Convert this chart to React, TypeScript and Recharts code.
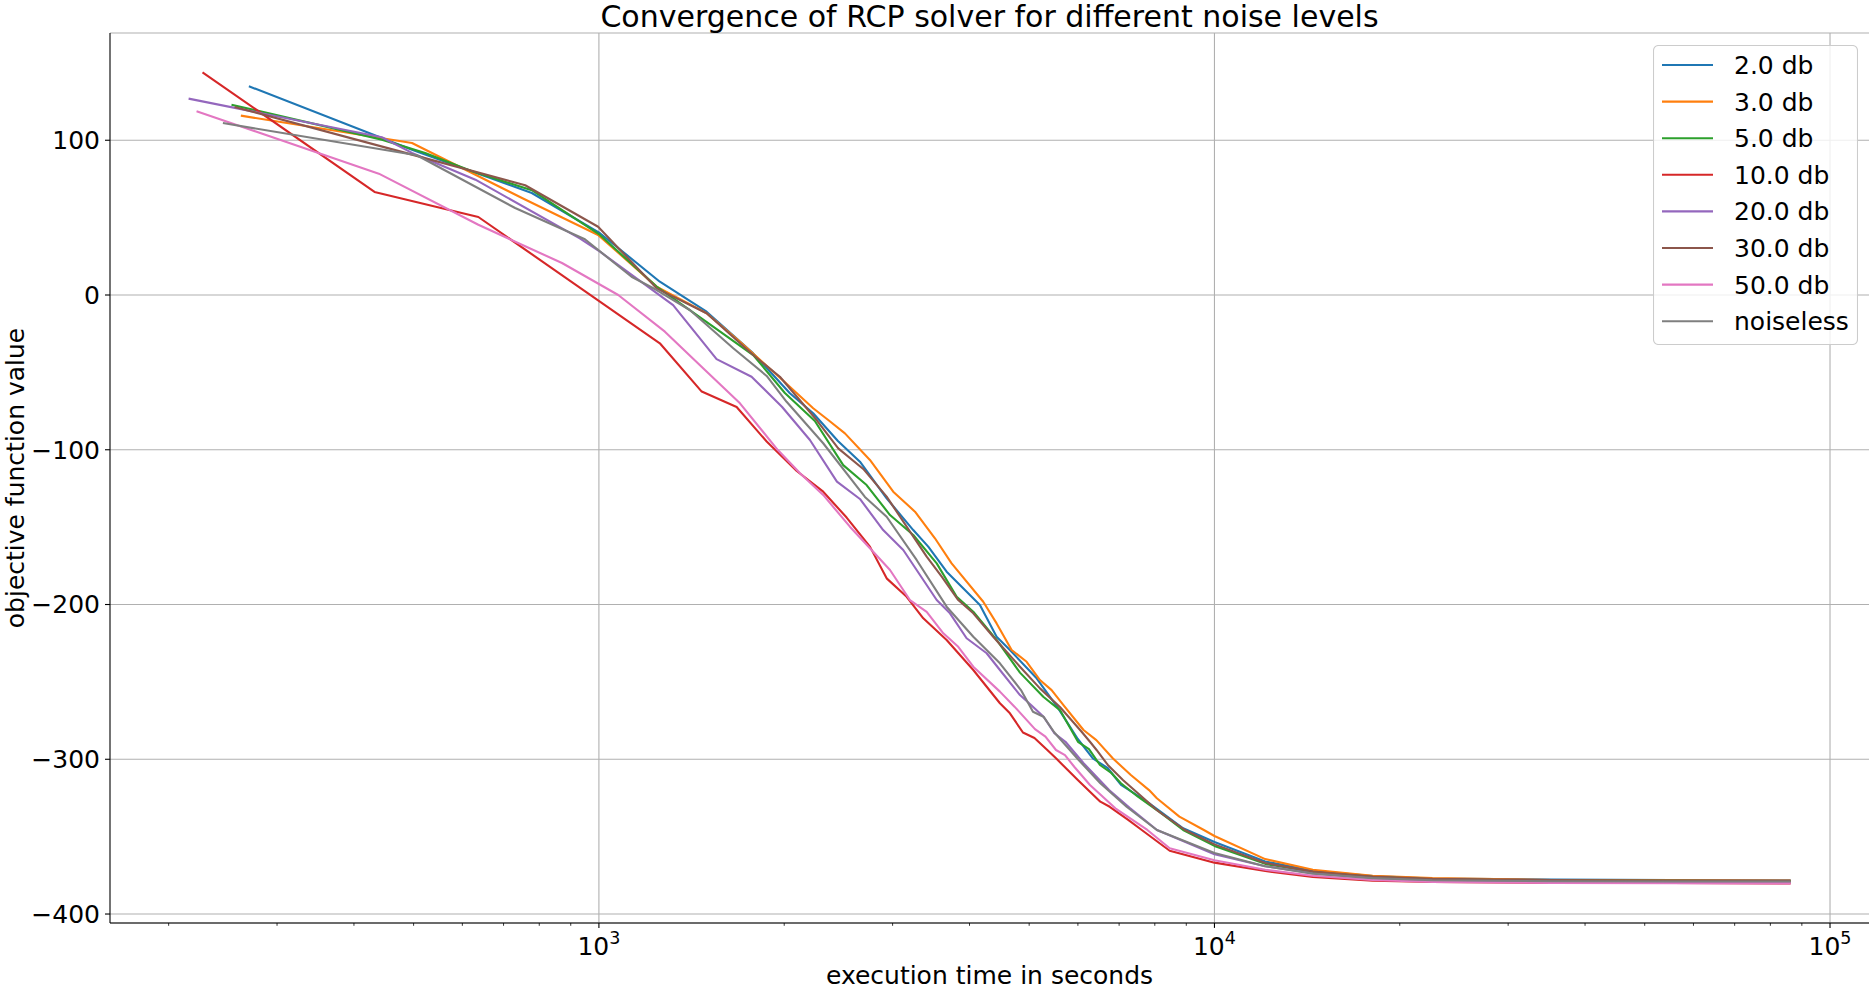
import { LineChart, Line, XAxis, YAxis, CartesianGrid, ReferenceLine, Legend } from 'recharts'

// execution time (s) / objective value per noise level
const T_2DB = [270, 444, 497, 778, 1004, 1256, 1496, 1781, 2043, 2229, 2445, 2655, 2934, 3241, 3428, 3672, 4159, 4427, 4653, 5142, 5575, 5998, 6345, 6711, 7051, 7407, 7836, 8894, 10000, 12090, 14450, 18070, 22590, 35320, 55200, 86300]
const V_2DB = [134.9, 101.5, 93.9, 65.9, 39.9, 8.6, -10.8, -37.7, -63.5, -76.4, -94.3, -107.7, -131.4, -151.9, -162.6, -178.8, -200.3, -220.8, -229.4, -247.7, -267.1, -286.9, -299.4, -305.8, -316.6, -322.0, -328.5, -344.6, -353.5, -366.0, -372.0, -375.5, -377.0, -377.8, -378.0, -378.2]

const T_3DB = [262, 497, 556, 750, 997, 1241, 1496, 1695, 1981, 2229, 2358, 2510, 2756, 3007, 3262, 3515, 3741, 4211, 4427, 4683, 4953, 5206, 5438, 5680, 6127, 6429, 6841, 7314, 7830, 8061, 8770, 9612, 10000, 12090, 14450, 18070, 22590, 35320, 55200, 86300]
const V_3DB = [115.9, 98.2, 88.5, 62.7, 38.8, 5.4, -11.8, -30.2, -54.5, -73.2, -80.8, -89.4, -106.6, -127.1, -140.0, -157.2, -173.4, -198.2, -212.2, -229.4, -237.0, -248.8, -255.3, -264.9, -281.1, -287.6, -299.5, -310.2, -319.9, -325.2, -337.1, -345.7, -349.6, -364.5, -371.4, -375.3, -376.8, -378.0, -378.2, -378.4]

const T_5DB = [253, 444, 522, 622, 778, 1004, 1241, 1533, 1781, 2005, 2243, 2494, 2722, 2971, 3241, 3538, 3813, 4057, 4427, 4831, 5271, 5610, 6002, 6254, 6516, 6789, 7048, 7511, 8061, 8894, 10000, 12090, 14450, 18070, 22590, 35320, 55200, 86300]
const V_5DB = [123.0, 100.4, 91.8, 79.9, 67.7, 38.8, 5.4, -20.5, -38.8, -63.3, -81.4, -109.9, -122.8, -142.2, -155.1, -173.4, -195.0, -204.7, -222.9, -244.0, -259.6, -268.2, -288.7, -293.4, -303.7, -308.6, -315.5, -324.2, -332.8, -345.7, -356.0, -367.6, -373.0, -376.0, -377.6, -378.4, -378.6, -378.8]

const T_10DB = [227, 432, 637, 1256, 1469, 1674, 1873, 2096, 2314, 2526, 2756, 2934, 3162, 3365, 3672, 4057, 4482, 4653, 4885, 5100, 5351, 5528, 5998, 6525, 6759, 7251, 7619, 8458, 10000, 12090, 14450, 18070, 22590, 35320, 55200, 86300]
const V_10DB = [143.9, 66.6, 50.4, -31.2, -62.4, -72.4, -94.7, -113.7, -127.1, -143.8, -162.6, -183.1, -195.0, -208.9, -222.9, -242.3, -263.8, -270.3, -282.7, -286.3, -294.0, -299.4, -313.4, -327.4, -330.7, -339.3, -345.7, -359.1, -366.8, -372.2, -376.1, -378.4, -379.2, -379.9, -380.0, -380.2]

const T_20DB = [215.5, 444, 497, 630, 931, 1004, 1320, 1553, 1770, 1983, 2202, 2436, 2655, 2896, 3122, 3538, 3718, 3957, 4265, 4482, 4831, 5035, 5277, 5495, 5727, 6129, 6742, 7289, 8065, 10000, 12090, 14450, 18070, 22590, 35320, 55200, 86300]
const V_20DB = [126.9, 101.9, 91.8, 74.5, 36.6, 28.0, -6.5, -41.4, -52.8, -72.2, -93.7, -120.6, -131.8, -151.9, -164.8, -197.1, -205.7, -221.8, -231.5, -242.3, -258.5, -264.9, -272.5, -283.2, -288.7, -302.6, -319.9, -331.5, -345.7, -361.4, -369.1, -373.7, -376.8, -378.4, -379.2, -379.4, -379.5]

const T_30DB = [256, 497, 759, 997, 1241, 1496, 1781, 1968, 2258, 2448, 2688, 2934, 3408, 3605, 3835, 4057, 4371, 4831, 5206, 5610, 6084, 6277, 6434, 6711, 7100, 7511, 8061, 8956, 10000, 12090, 14450, 18070, 22590, 35320, 55200, 86300]
const V_30DB = [121.5, 90.7, 70.9, 44.1, 4.3, -11.8, -38.8, -52.8, -80.8, -99.1, -112.4, -130.3, -169.1, -182.0, -197.1, -205.7, -220.8, -240.2, -254.2, -266.2, -282.2, -288.7, -294.0, -303.7, -313.4, -322.0, -332.8, -345.7, -355.0, -367.0, -372.5, -375.8, -377.3, -378.0, -378.3, -378.5]

const T_50DB = [222, 439, 637, 759, 871, 1075, 1280, 1487, 1695, 1953, 2122, 2314, 2557, 2790, 2971, 3201, 3408, 3627, 3835, 4057, 4482, 4733, 5110, 5314, 5528, 5717, 5923, 6277, 6902, 7780, 8458, 10000, 12090, 14450, 18070, 22590, 35320, 55200, 86300]
const V_50DB = [118.7, 78.4, 45.4, 31.5, 20.7, 0.0, -23.7, -48.5, -70.0, -100.2, -115.2, -129.2, -149.7, -165.9, -177.7, -197.1, -204.7, -218.6, -227.3, -240.2, -256.3, -266.0, -280.5, -285.4, -294.0, -297.3, -305.0, -316.6, -331.7, -345.7, -357.5, -365.3, -371.4, -375.3, -378.0, -379.2, -379.9, -380.1, -380.2]

const T_NOISELESS = [245, 506, 731, 949, 1130, 1241, 1405, 1653, 1873, 2018, 2314, 2705, 2934, 3282, 3672, 4057, 4482, 4849, 5072, 5275, 5495, 6002, 6525, 7199, 8061, 10000, 12090, 14450, 18070, 22590, 35320, 55200, 86300]
const V_NOISELESS = [111.1, 90.3, 56.2, 36.0, 11.8, 3.2, -9.7, -34.4, -52.3, -69.0, -95.8, -130.5, -143.3, -171.2, -201.4, -220.8, -238.0, -255.3, -269.3, -272.5, -282.7, -300.0, -315.5, -330.7, -345.7, -360.6, -369.1, -373.9, -376.8, -378.2, -378.8, -379.0, -379.0]

const MAJOR_TICKS = [1000, 10000, 100000]
const X_TICKS = [200, 300, 400, 500, 600, 700, 800, 900, 1000, 2000, 3000, 4000, 5000, 6000, 7000, 8000, 9000, 10000, 20000, 30000, 40000, 50000, 60000, 70000, 80000, 90000, 100000]
const Y_TICKS = [-400, -300, -200, -100, 0, 100]
const X_DOMAIN = [160.6, 115700]
const Y_DOMAIN = [-405.8, 169.3]

const FONT = '"DejaVu Sans", sans-serif'

const SERIES = [
  { name: '2.0 db', color: '#1f77b4', t: T_2DB, v: V_2DB },
  { name: '3.0 db', color: '#ff7f0e', t: T_3DB, v: V_3DB },
  { name: '5.0 db', color: '#2ca02c', t: T_5DB, v: V_5DB },
  { name: '10.0 db', color: '#d62728', t: T_10DB, v: V_10DB },
  { name: '20.0 db', color: '#9467bd', t: T_20DB, v: V_20DB },
  { name: '30.0 db', color: '#8c564b', t: T_30DB, v: V_30DB },
  { name: '50.0 db', color: '#e377c2', t: T_50DB, v: V_50DB },
  { name: 'noiseless', color: '#7f7f7f', t: T_NOISELESS, v: V_NOISELESS },
].map(s => ({ ...s, data: s.t.map((t, i) => ({ t, v: s.v[i] })) }))

const minus = (v: number) => String(v).replace('-', '\u2212')

function XTick(props: any) {
  const { x, y, payload } = props
  const major = MAJOR_TICKS.includes(payload.value)
  return (
    <g>
      <line x1={x} x2={x} y1={y} y2={y + (major ? 4.9 : 2.8)} stroke="#000" strokeWidth={major ? 1.1 : 0.8} />
      {major && (
        <text x={x} y={y + 32} textAnchor="middle" fontSize={25} fontFamily={FONT} fill="#000">
          10<tspan dy={-11} fontSize={17.5}>{Math.round(Math.log10(payload.value))}</tspan>
        </text>
      )}
    </g>
  )
}

function LegendBox() {
  return (
    <svg width={205} height={300} style={{ display: 'block' }}>
      <rect x={0.5} y={0.5} width={204} height={299} rx={5} fill="#fff" fillOpacity={0.8} stroke="#cccccc" strokeWidth={1.1} />
      {SERIES.map((s, i) => {
        const cy = 20 + i * 36.6
        return (
          <g key={s.name}>
            <line x1={9} x2={60} y1={cy} y2={cy} stroke={s.color} strokeWidth={2.1} />
            <text x={81} y={cy + 9} fontSize={25} fontFamily={FONT} fill="#000">{s.name}</text>
          </g>
        )
      })}
    </svg>
  )
}

export default function App() {
  return (
    <div style={{ position: 'relative', width: 1872, height: 991, fontFamily: FONT }}>
      <style>{'body{margin:0;overflow:hidden}'}</style>
      <LineChart width={1872} height={991} margin={{ top: 33, right: 3, bottom: 0, left: 0 }}>
        <CartesianGrid vertical={false} stroke="#b0b0b0" strokeWidth={1.1} />
        {MAJOR_TICKS.map(m => (
          <ReferenceLine key={m} x={m} stroke="#b0b0b0" strokeWidth={1.1} />
        ))}
        <XAxis
          dataKey="t"
          type="number"
          scale="log"
          domain={X_DOMAIN}
          allowDataOverflow
          ticks={X_TICKS}
          interval={0}
          height={68}
          tickSize={0}
          tickMargin={0}
          tickLine={false}
          tick={<XTick />}
          axisLine={{ stroke: '#000', strokeWidth: 1.1 }}
        />
        <XAxis
          xAxisId="top"
          orientation="top"
          type="number"
          scale="log"
          domain={X_DOMAIN}
          allowDataOverflow
          height={0}
          tick={false}
          tickLine={false}
          axisLine={{ stroke: '#000', strokeWidth: 1.1 }}
        />
        <YAxis
          type="number"
          domain={Y_DOMAIN}
          allowDataOverflow
          ticks={Y_TICKS}
          interval={0}
          width={110}
          tickSize={5}
          tickMargin={5}
          tickFormatter={minus}
          tick={{ fontSize: 25, fill: '#000', fontFamily: FONT }}
          tickLine={{ stroke: '#000', strokeWidth: 1.1 }}
          axisLine={{ stroke: '#000', strokeWidth: 1.1 }}
        />
        <YAxis
          yAxisId="right"
          orientation="right"
          type="number"
          domain={Y_DOMAIN}
          allowDataOverflow
          width={0}
          tick={false}
          tickLine={false}
          axisLine={{ stroke: '#000', strokeWidth: 1.1 }}
        />
        {SERIES.map(s => (
          <Line
            key={s.name}
            data={s.data}
            dataKey="v"
            name={s.name}
            type="linear"
            stroke={s.color}
            strokeWidth={2.1}
            strokeLinejoin="round"
            dot={false}
            activeDot={false}
            isAnimationActive={false}
          />
        ))}
        <Legend
          layout="vertical"
          align="center"
          verticalAlign="middle"
          content={() => <LegendBox />}
          wrapperStyle={{ left: 1653, top: 45, width: 205, height: 300, margin: 0 }}
        />
      </LineChart>
      <svg width={1872} height={991} style={{ position: 'absolute', left: 0, top: 0, pointerEvents: 'none' }}>
        <text x={989.5} y={27} textAnchor="middle" fontSize={30} fontFamily={FONT} fill="#000">
          Convergence of RCP solver for different noise levels
        </text>
        <text x={989.5} y={984} textAnchor="middle" fontSize={25} fontFamily={FONT} fill="#000">
          execution time in seconds
        </text>
        <text x={24} y={478} textAnchor="middle" fontSize={25} fontFamily={FONT} fill="#000" transform="rotate(-90 24 478)">
          objective function value
        </text>
      </svg>
    </div>
  )
}
